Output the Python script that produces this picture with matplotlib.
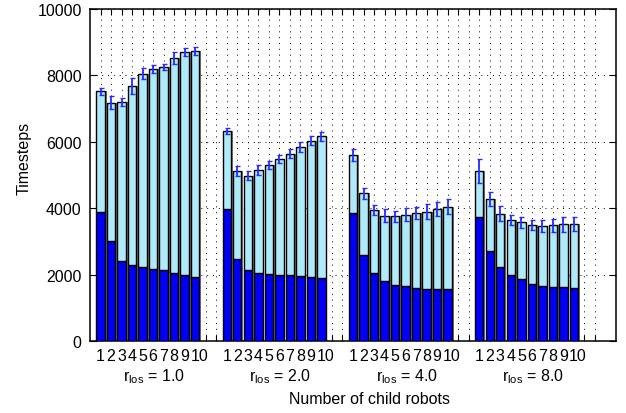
import matplotlib.pyplot as plt
from matplotlib.transforms import blended_transform_factory
import numpy as np

plt.rcParams['font.family'] = ['Liberation Sans', 'DejaVu Sans']
plt.rcParams['mathtext.fontset'] = 'custom'
plt.rcParams['mathtext.rm'] = 'Liberation Sans'
plt.rcParams['mathtext.it'] = 'Liberation Sans'

# number of child robots in each group, and the r_los of each group
children = [1, 2, 3, 4, 5, 6, 7, 8, 9, 10]
r_los = ['1.0', '2.0', '4.0', '8.0']

# total timesteps (top of the light bar)
total_r1 = [7520, 7180, 7190, 7680, 8050, 8180, 8250, 8520, 8700, 8740]
total_r2 = [6320, 5120, 4980, 5150, 5310, 5480, 5635, 5845, 6035, 6165]
total_r4 = [5600, 4450, 3940, 3780, 3760, 3810, 3850, 3900, 3970, 4040]
total_r8 = [5120, 4270, 3840, 3650, 3570, 3490, 3460, 3480, 3520, 3530]

# first part (dark bar)
part_r1 = [3900, 3000, 2420, 2280, 2240, 2180, 2130, 2050, 1990, 1920]
part_r2 = [3980, 2480, 2150, 2060, 2020, 2000, 1980, 1950, 1930, 1910]
part_r4 = [3860, 2580, 2040, 1800, 1700, 1650, 1610, 1580, 1570, 1560]
part_r8 = [3720, 2720, 2230, 1980, 1870, 1730, 1670, 1640, 1620, 1590]

# error on the total
err_r1 = [110, 190, 125, 250, 165, 120, 100, 180, 130, 120]
err_r2 = [90, 140, 130, 140, 125, 125, 135, 140, 145, 140]
err_r4 = [190, 165, 155, 185, 170, 205, 190, 220, 210, 225]
err_r8 = [350, 210, 230, 160, 175, 140, 185, 190, 225, 210]

totals = [total_r1, total_r2, total_r4, total_r8]
parts = [part_r1, part_r2, part_r4, part_r8]
errs = [err_r1, err_r2, err_r4, err_r8]

dark = '#0000f5'
light = '#aeeaf9'
width = 0.8
slot = len(children) + 2

fig = plt.figure(figsize=(6.26, 4.14), dpi=100)
ax = fig.add_axes([90/626, 1 - 342/414, 526/626, 332/414])

for g in range(len(r_los)):
    x = np.array(children) + slot * g
    tot = np.array(totals[g])
    part = np.array(parts[g])
    # grey shadow to the right of each bar
    ax.bar(x + 0.17, tot, width, color='#7a7a7a', linewidth=0, zorder=2)
    ax.bar(x, part, width, color=dark, edgecolor='k', linewidth=1, zorder=3)
    ax.bar(x, tot - part, width, bottom=part, color=light,
           edgecolor='k', linewidth=1, zorder=3)
    ax.errorbar(x, tot, yerr=errs[g], fmt='none', ecolor='#2a2aff',
                elinewidth=1.3, capsize=1.8, capthick=1, zorder=4)

ticks = np.arange(1, slot * len(r_los) + 1)
labels = []
for t in ticks:
    i = (t - 1) % slot
    lab = str(children[i]) if i < len(children) else ''
    if len(lab) > 1:
        # two-digit label drawn a bit to the right so it clears the "9"
        ax.annotate(lab, xy=(t, 0), xycoords=('data', 'axes fraction'),
                    xytext=(3, -5), textcoords='offset points',
                    ha='center', va='top', fontsize=11.5)
        lab = ''
    labels.append(lab)
ax.set_xticks(ticks)
ax.set_xticklabels(labels, fontsize=11.5)
ax.set_xlim(0, 50)
ax.set_ylim(0, 10000)
ax.set_yticks(np.arange(0, 10001, 2000))
ax.tick_params(axis='y', labelsize=11.5, direction='in', right=True, length=5, pad=6)
ax.tick_params(axis='x', direction='in', top=True, length=4, pad=5)
ax.grid(True, color='k', linestyle=(0, (1, 5)), linewidth=0.7)
ax.set_axisbelow(True)
for s in ax.spines.values():
    s.set_linewidth(1.1)

tr = blended_transform_factory(ax.transData, ax.transAxes)
for g, r in enumerate(r_los):
    cx = slot * g + (len(children) + 1) / 2 + 0.6
    ax.text(cx, -0.075, r'r$_{\rm los}$ = ' + r, transform=tr, ha='center',
            va='top', fontsize=11.5)

fig.text(369/626, 1 - 400/414, 'Number of child robots', ha='center',
         va='center', fontsize=11.5)
fig.text(24/626, 1 - 158/414, 'Timesteps', rotation=90, ha='center',
         va='center', fontsize=11.5)

fig.savefig('out.png', dpi=100)
